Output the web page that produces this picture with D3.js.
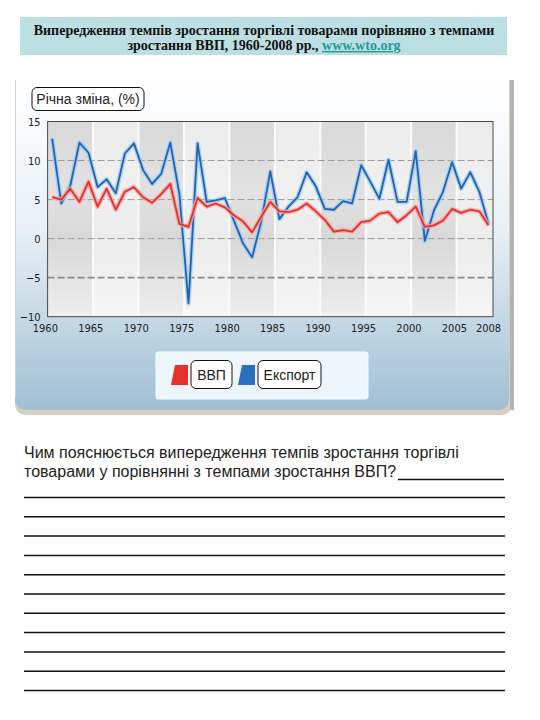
<!DOCTYPE html>
<html>
<head>
<meta charset="utf-8">
<script src="https://cdn.jsdelivr.net/npm/d3@7"></script>
<style>
  body { margin: 0; background: #fff; }
  svg { display: block; }
</style>
</head>
<body>
<svg id="chart" width="540" height="720"></svg>
<script>
// values, % annual change
var years = [1960,1961,1962,1963,1964,1965,1966,1967,1968,1969,
             1970,1971,1972,1973,1974,1975,1976,1977,1978,1979,
             1980,1981,1982,1983,1984,1985,1986,1987,1988,1989,
             1990,1991,1992,1993,1994,1995,1996,1997,1998,1999,
             2000,2001,2002,2003,2004,2005,2006,2007,2008];
var gdp = [5.3,5.0,6.4,4.7,7.3,4.1,6.4,3.7,6.0,6.6,
           5.3,4.6,5.7,7.0,1.9,1.5,5.2,4.1,4.5,4.0,
           3.0,2.2,0.8,2.8,4.7,3.5,3.4,3.7,4.5,3.5,
           2.4,0.9,1.1,0.9,2.1,2.3,3.2,3.4,2.1,3.0,
           4.1,1.5,1.7,2.3,3.8,3.3,3.7,3.5,1.7];
var exportGrowth = [12.8,4.5,6.8,12.3,11.0,6.6,7.6,5.8,10.9,12.2,
           8.8,7.0,8.3,12.3,5.7,-8.3,12.2,4.7,4.9,5.2,
           2.3,-0.6,-2.4,2.2,8.6,2.5,4.1,5.3,8.5,6.7,
           3.8,3.7,4.8,4.5,9.4,7.3,5.1,10.1,4.7,4.7,
           11.2,-0.3,3.6,6.0,9.8,6.4,8.5,6.0,1.9];
var yTicks = [-10,-5,0,5,10,15];
var gridValues = [-5,0,5,10];
var xTickYears = [1960,1965,1970,1975,1980,1985,1990,1995,2000,2005,2008];
var bandEdges = [1960,1965,1970,1975,1980,1985,1990,1995,2000,2005,2009];
var seriesNames = ["ВВП","Експорт"];
var titleLines = ["Випередження темпів зростання торгівлі товарами порівняно з темпами",
                  "зростання ВВП, 1960-2008 рр., "];
var titleLink = "www.wto.org";
var axisTitle = "Річна зміна, (%)";
var questionLines = ["Чим пояснюється випередження темпів зростання торгівлі",
                     "товарами у порівнянні з темпами зростання ВВП?"];
var answerLineCount = 11;

var svg = d3.select("#chart");
var defs = svg.append("defs");

/*Title box*/
svg.append("rect").attr("x", 20).attr("y", 17).attr("width", 487).attr("height", 38)
    .attr("fill", "#bcdfe3");
var title = svg.append("g")
    .attr("font-family", "'Liberation Serif', 'DejaVu Serif', serif")
    .attr("font-weight", "bold").attr("font-size", 14).attr("fill", "#111")
    .attr("text-anchor", "middle");
title.append("text").attr("x", 264).attr("y", 35).text(titleLines[0]);
var t2 = title.append("text").attr("x", 264).attr("y", 50);
t2.append("tspan").text(titleLines[1]);
t2.append("tspan").attr("fill", "#1f9b9b").attr("text-decoration", "underline").text(titleLink);

/*Chart panel with gradient background*/
var panelGrad = defs.append("linearGradient").attr("id", "panelGrad")
    .attr("x1", 0).attr("y1", 0).attr("x2", 0).attr("y2", 1);
panelGrad.append("stop").attr("offset", "0%").attr("stop-color", "#ffffff");
panelGrad.append("stop").attr("offset", "45%").attr("stop-color", "#e8f0f5");
panelGrad.append("stop").attr("offset", "100%").attr("stop-color", "#a0bfd4");

function panelPath(x0, y0, x1, y1, r) {
  return "M" + x0 + "," + y0 + "H" + x1 + "V" + (y1 - r) +
    "Q" + x1 + "," + y1 + " " + (x1 - r) + "," + y1 +
    "H" + (x0 + r) + "Q" + x0 + "," + y1 + " " + x0 + "," + (y1 - r) + "Z";
}
svg.append("path").attr("d", panelPath(15, 80, 512, 415, 12)).attr("fill", "#d6cfc2");
svg.append("path").attr("d", panelPath(15, 80, 509, 410, 12)).attr("fill", "url(#panelGrad)");
svg.append("line").attr("x1", 15.5).attr("x2", 15.5).attr("y1", 80).attr("y2", 398)
    .attr("stroke", "#d0d4d8").attr("stroke-width", 1);
svg.append("rect").attr("x", 510).attr("y", 80).attr("width", 4).attr("height", 330)
    .attr("fill", "#b3b3b3");

/*Axis title box*/
svg.append("rect").attr("x", 32).attr("y", 87.5).attr("width", 112).attr("height", 23)
    .attr("rx", 5).attr("fill", "#fff").attr("stroke", "#111").attr("stroke-width", 1);
svg.append("text").attr("x", 88).attr("y", 104).attr("text-anchor", "middle")
    .attr("font-family", "'Liberation Sans', Arial, sans-serif").attr("font-size", 14)
    .attr("fill", "#222").text(axisTitle);

/*Scales*/
var plot = { left: 47.6, right: 493, top: 121.5, bottom: 316.7 };
var xScale = d3.scaleLinear().domain([1960, 2009]).range([plot.left, plot.right]);
var yScale = d3.scaleLinear().domain([-10, 15]).range([plot.bottom, plot.top]);

var g = svg.append("g");

/*Alternating 5-year bands*/
d3.pairs(bandEdges).forEach(function(p, i) {
  g.append("rect")
    .attr("x", xScale(p[0])).attr("y", plot.top)
    .attr("width", xScale(p[1]) - xScale(p[0])).attr("height", plot.bottom - plot.top)
    .attr("fill", i % 2 === 0 ? "#d8d8d8" : "#ebebeb");
});
var shade = defs.append("linearGradient").attr("id", "shade")
    .attr("x1", 0).attr("y1", 0).attr("x2", 0).attr("y2", 1);
shade.append("stop").attr("offset", "0%").attr("stop-color", "#fff").attr("stop-opacity", 0);
shade.append("stop").attr("offset", "35%").attr("stop-color", "#fff").attr("stop-opacity", 0.25);
shade.append("stop").attr("offset", "60%").attr("stop-color", "#fff").attr("stop-opacity", 0);
shade.append("stop").attr("offset", "100%").attr("stop-color", "#fff").attr("stop-opacity", 0.55);
g.append("rect").attr("x", plot.left).attr("y", plot.top)
    .attr("width", plot.right - plot.left).attr("height", plot.bottom - plot.top)
    .attr("fill", "url(#shade)");
bandEdges.slice(1, -1).forEach(function(b) {
  g.append("line").attr("x1", xScale(b)).attr("x2", xScale(b))
    .attr("y1", plot.top).attr("y2", plot.bottom)
    .attr("stroke", "#fafafa").attr("stroke-width", 2);
});

/*Dashed grid*/
gridValues.forEach(function(v) {
  g.append("line").attr("x1", plot.left).attr("x2", plot.right)
    .attr("y1", yScale(v)).attr("y2", yScale(v))
    .attr("stroke", v === -5 ? "#8a8a8a" : "#9c9c9c")
    .attr("stroke-width", v === -5 ? 1.6 : 1)
    .attr("stroke-dasharray", "7,3");
});

/*Series lines*/
function lineGen(values) {
  return d3.line()
    .x(function(d, i) { return xScale(years[i] + 0.5); })
    .y(function(d) { return yScale(d); })(values);
}
[[exportGrowth, "#9ccbf0", "#2163ae"], [gdp, "#f6a3a3", "#e6302b"]].forEach(function(s) {
  g.append("path").attr("d", lineGen(s[0])).attr("fill", "none")
    .attr("stroke", s[1]).attr("stroke-width", 4.5).attr("stroke-linejoin", "round")
    .attr("opacity", 0.8);
  g.append("path").attr("d", lineGen(s[0])).attr("fill", "none")
    .attr("stroke", s[2]).attr("stroke-width", 1.8).attr("stroke-linejoin", "round");
});

/*Plot border*/
g.append("rect").attr("x", plot.left).attr("y", plot.top)
    .attr("width", plot.right - plot.left).attr("height", plot.bottom - plot.top)
    .attr("fill", "none").attr("stroke", "#4a4a4a").attr("stroke-width", 1);

/*Axes*/
var tickFont = "'Liberation Sans Narrow', 'DejaVu Sans Condensed', sans-serif";
var yAxis = d3.axisLeft(yScale).tickValues(yTicks).tickSize(0).tickPadding(7);
var yG = g.append("g").attr("transform", "translate(" + plot.left + ",0)").call(yAxis);
yG.select(".domain").remove();
yG.selectAll("text").attr("font-family", tickFont).attr("font-size", 11).attr("fill", "#222");

var xAxis = d3.axisBottom(xScale)
    .tickValues(xTickYears.map(function(y) { return y === 2008 ? 2008.45 : y - 0.3; }))
    .tickFormat(function(d) { return Math.round(d); })
    .tickSize(0).tickPadding(8);
var xG = g.append("g").attr("transform", "translate(0," + plot.bottom + ")").call(xAxis);
xG.select(".domain").remove();
xG.selectAll("text").attr("font-family", tickFont).attr("font-size", 11).attr("fill", "#222");

/*Legend*/
var legend = svg.append("g");
legend.append("rect").attr("x", 156).attr("y", 352).attr("width", 212).attr("height", 47)
    .attr("rx", 2).attr("fill", "#eef6fb").attr("stroke", "#f6fbfe");
var legendItems = [
  { name: seriesNames[0], color: "#e8302a", x: 171, boxW: 41 },
  { name: seriesNames[1], color: "#2a70c2", x: 238, boxW: 63 }
];
legendItems.forEach(function(d) {
  legend.append("path")
    .attr("d", "M" + d.x + ",385L" + (d.x + 4) + ",365H" + (d.x + 17) + "V385Z")
    .attr("fill", d.color);
  legend.append("rect").attr("x", d.x + 20).attr("y", 360.5).attr("width", d.boxW)
    .attr("height", 28).attr("rx", 5).attr("fill", "#fff").attr("stroke", "#111");
  legend.append("text").attr("x", d.x + 20 + d.boxW / 2).attr("y", 380)
    .attr("text-anchor", "middle")
    .attr("font-family", "'Liberation Sans', Arial, sans-serif").attr("font-size", 14)
    .attr("fill", "#222").text(d.name);
});

/*Question and answer lines*/
var q = svg.append("g").attr("font-family", "'Liberation Sans', Arial, sans-serif")
    .attr("font-size", 16).attr("fill", "#222");
q.append("text").attr("x", 24).attr("y", 458).text(questionLines[0]);
q.append("text").attr("x", 24).attr("y", 477).text(questionLines[1]);
svg.append("line").attr("x1", 398).attr("x2", 504).attr("y1", 479.5).attr("y2", 479.5)
    .attr("stroke", "#111").attr("stroke-width", 1.3);
d3.range(answerLineCount).forEach(function(i) {
  var y = 497.5 + i * 19.3;
  svg.append("line").attr("x1", 24).attr("x2", 505).attr("y1", y).attr("y2", y)
    .attr("stroke", "#111").attr("stroke-width", 1.5);
});
</script>
</body>
</html>
